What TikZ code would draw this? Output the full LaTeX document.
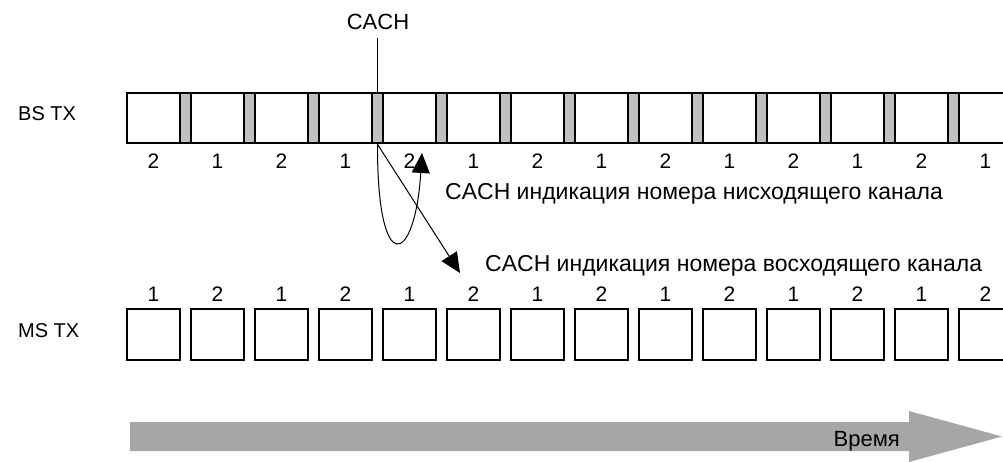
\documentclass[tikz,border=0pt]{standalone}
\usepackage{fontspec}
\setmainfont{Liberation Sans}
\usetikzlibrary{arrows.meta}
\definecolor{slotgray}{HTML}{C0C0C0}
\definecolor{timegray}{HTML}{A6A6A6}
\begin{document}
\begin{tikzpicture}[x=1pt,y=-1pt,
  numtext/.style={font=\fontsize{21}{25}\selectfont, inner sep=0pt},
  rowtext/.style={font=\fontsize{20}{24}\selectfont, inner sep=0pt, anchor=base west},
  notetext/.style={font=\fontsize{23}{27}\selectfont, inner sep=0pt, anchor=base west},
  framebox/.style={draw=black, line width=2.6pt, fill=white, inner sep=0pt,
    minimum width=53pt, minimum height=50pt},
  cachslot/.style={draw=black, line width=2.6pt, fill=slotgray, inner sep=0pt,
    minimum width=11pt, minimum height=50pt},
  pointer/.style={line width=1pt, -{Triangle[length=20pt,width=18pt]}}]
\useasboundingbox (0,0) rectangle (1003,462);
\begin{scope}
\clip (0,0) rectangle (1003,462);

% row labels
\node[rowtext] (bstx) at (18,121) {BS TX};
\node[rowtext] (mstx) at (18,337) {MS TX};

% base station bursts with CACH slots between them
\foreach \k in {0,...,13} {
  \node[framebox] (b\k) at ({153.5+64*\k},118) {};
}
\foreach \k in {0,...,12} {
  \node[cachslot] (s\k) at ({185.5+64*\k},118) {};
}
\foreach \k/\t in {0/2,1/1,2/2,3/1,4/2,5/1,6/2,7/1,8/2,9/1,10/2,11/1,12/2,13/1} {
  \node[numtext] (bn\k) at ({153.5+64*\k},161) {\t};
}

% mobile station bursts
\foreach \k in {0,...,13} {
  \node[framebox, minimum height=51pt] (m\k) at ({153.5+64*\k},334.5) {};
}
\foreach \k/\t in {0/1,1/2,2/1,3/2,4/1,5/2,6/1,7/2,8/1,9/2,10/1,11/2,12/1,13/2} {
  \node[numtext] (mn\k) at ({153.5+64*\k},294.5) {\t};
}

% CACH marker
\node[font=\fontsize{22}{26}\selectfont, inner sep=0pt, anchor=base] (cach) at (378,29.3) {CACH};
\draw[line width=1pt] ([yshift=-8.7pt]cach.south -| s3.north) -- (s3.north);

% channel indication pointers
\coordinate (downtip) at (422,153);
\coordinate (uptip) at (460,273);
\draw[pointer] (s3.south) .. controls (377,280) and (415,265) .. (downtip);
\draw[pointer] (s3.south) -- (uptip);
\node[notetext] (downnote) at (445,200) {CACH индикация номера нисходящего канала};
\node[notetext] (upnote) at (485,271.7) {CACH индикация номера восходящего канала};

% time axis
\fill[timegray] (130,422) -- (909,422) -- (909,411) -- (1002,436.5)
  -- (909,462) -- (909,451) -- (130,451) -- cycle;
\node[font=\fontsize{22}{26}\selectfont, inner sep=0pt, anchor=base east] (time) at (900,446) {Время};
\end{scope}
\end{tikzpicture}
\end{document}
